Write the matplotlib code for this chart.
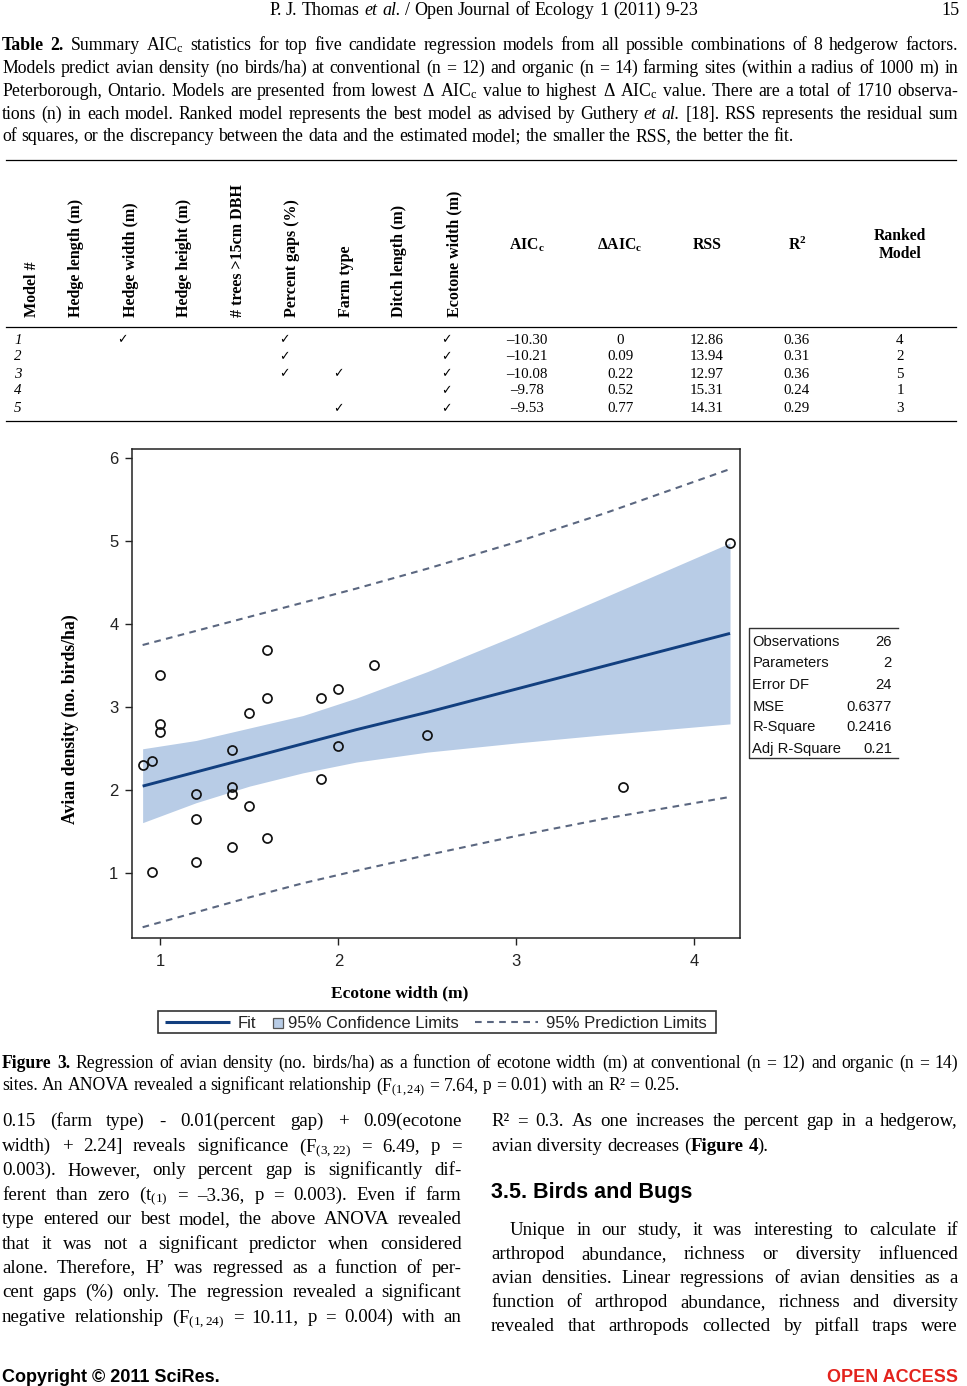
import matplotlib
matplotlib.use('Agg')
import matplotlib.pyplot as plt
from matplotlib.patches import Rectangle

plt.rcParams['mathtext.fontset'] = 'custom'
plt.rcParams['mathtext.rm'] = 'Liberation Serif'
plt.rcParams['mathtext.it'] = 'Liberation Serif:italic'
plt.rcParams['mathtext.bf'] = 'Liberation Serif:bold'

# ---------------- data ----------------
ecotone_width = [0.90, 0.95, 0.95, 1.00, 1.00, 1.00, 1.20, 1.20, 1.20, 1.40, 1.40, 1.40, 1.40,
                 1.50, 1.50, 1.60, 1.60, 1.60, 1.90, 1.90, 2.00, 2.00, 2.20, 2.50, 3.60, 4.20]
avian_density = [2.30, 2.35, 1.01, 3.39, 2.80, 2.70, 1.96, 1.66, 1.14, 2.49, 2.04, 1.96, 1.32,
                 2.93, 1.81, 3.69, 3.11, 1.43, 3.11, 2.13, 3.22, 2.53, 3.51, 2.67, 2.04, 4.98]

band_x = [0.9, 1.2, 1.5, 1.8, 2.1, 2.5, 3.0, 3.5, 4.2]
fit_y = [2.05, 2.22, 2.39, 2.56, 2.73, 2.94, 3.22, 3.50, 3.89]
ci_upper = [2.50, 2.60, 2.75, 2.90, 3.11, 3.43, 3.87, 4.33, 4.98]
ci_lower = [1.61, 1.85, 2.05, 2.21, 2.34, 2.46, 2.57, 2.67, 2.80]
pred_upper = [3.75, 3.92, 4.09, 4.26, 4.43, 4.67, 4.99, 5.34, 5.87]
pred_lower = [0.35, 0.53, 0.71, 0.88, 1.03, 1.22, 1.45, 1.66, 1.92]

x_ticks = [1, 2, 3, 4]
y_ticks = [1, 2, 3, 4, 5, 6]

stat_labels = ['Observations', 'Parameters', 'Error DF', 'MSE', 'R-Square', 'Adj R-Square']
stat_values = ['26', '2', '24', '0.6377', '0.2416', '0.21']

legend_labels = ['Fit', '95% Confidence Limits', '95% Prediction Limits']

table_cols = ['Model #', 'Hedge length (m)', 'Hedge width (m)', 'Hedge height (m)',
              '# trees >15cm DBH', 'Percent gaps (%)', 'Farm type', 'Ditch length (m)',
              'Ecotone width (m)']
model_ids = ['1', '2', '3', '4', '5']
model_factors = [['Hedge width (m)', 'Percent gaps (%)', 'Ecotone width (m)'],
                 ['Percent gaps (%)', 'Ecotone width (m)'],
                 ['Percent gaps (%)', 'Farm type', 'Ecotone width (m)'],
                 ['Ecotone width (m)'],
                 ['Farm type', 'Ecotone width (m)']]
stat_cols = [r'$\mathbf{AIC}_\mathbf{c}$', r'$\mathbf{\Delta AIC}_\mathbf{c}$', 'RSS',
             r'$\mathbf{R}^\mathbf{2}$', 'Ranked\nModel']
aicc = ['–10.30', '–10.21', '–10.08', '–9.78', '–9.53']
delta_aicc = ['0', '0.09', '0.22', '0.52', '0.77']
rss = ['12.86', '13.94', '12.97', '15.31', '14.31']
r_squared = ['0.36', '0.31', '0.36', '0.24', '0.29']
ranked = ['4', '2', '5', '1', '3']

header_text = 'P. J. Thomas ¤et al.¤ / Open Journal of Ecology 1 (2011) 9-23'
table_caption = [
    '§Table 2.§ Summary $\\mathrm{AIC}_\\mathrm{c}$ statistics for top five candidate regression models from all possible combinations of 8 hedgerow factors.',
    'Models predict avian density (no birds/ha) at conventional (n = 12) and organic (n = 14) farming sites (within a radius of 1000 m) in',
    'Peterborough, Ontario. Models are presented from lowest Δ $\\mathrm{AIC}_\\mathrm{c}$ value to highest Δ $\\mathrm{AIC}_\\mathrm{c}$ value. There are a total of 1710 observa-',
    'tions (n) in each model. Ranked model represents the best model as advised by Guthery ¤et al.¤ [18]. RSS represents the residual sum',
    'of squares, or the discrepancy between the data and the estimated model; the smaller the RSS, the better the fit.',
]
figure_caption = [
    '§Figure 3.§ Regression of avian density (no. birds/ha) as a function of ecotone width (m) at conventional (n = 12) and organic (n = 14)',
    'sites. An ANOVA revealed a significant relationship ($\\mathrm{F}_{(1,24)}$ = 7.64, p = 0.01) with an R² = 0.25.',
]
left_column = [
    '0.15 (farm type) - 0.01(percent gap) + 0.09(ecotone',
    'width) + 2.24] reveals significance ($\\mathrm{F}_{(3,22)}$ = 6.49, p =',
    '0.003). However, only percent gap is significantly dif-',
    'ferent than zero ($\\mathrm{t}_{(1)}$ = –3.36, p = 0.003). Even if farm',
    'type entered our best model, the above ANOVA revealed',
    'that it was not a significant predictor when considered',
    'alone. Therefore, H’ was regressed as a function of per-',
    'cent gaps (%) only. The regression revealed a significant',
    'negative relationship ($\\mathrm{F}_{(1,24)}$ = 10.11, p = 0.004) with an',
]
right_column_a = [
    'R² = 0.3. As one increases the percent gap in a hedgerow,',
    'avian diversity decreases (§Figure 4§).',
]
section_heading = '3.5. Birds and Bugs'
right_column_b = [
    'Unique in our study, it was interesting to calculate if',
    'arthropod abundance, richness or diversity influenced',
    'avian densities. Linear regressions of avian densities as a',
    'function of arthropod abundance, richness and diversity',
    'revealed that arthropods collected by pitfall traps were',
]

# ---------------- page ----------------
W, H = 967, 1386
fig = plt.figure(figsize=(W / 100, H / 100), dpi=100)
fig.patch.set_facecolor('white')
page = fig.add_axes([0, 0, 1, 1])
page.set_xlim(0, W)
page.set_ylim(H, 0)
page.axis('off')
renderer = fig.canvas.get_renderer()

SERIF = 'Liberation Serif'
SANS = 'Liberation Sans'


def parse_words(line):
    bold, ital = False, False
    words = []
    for w in line.split(' '):
        segs, buf = [], ''
        for ch in w:
            if ch == '§':
                if buf:
                    segs.append((buf, bold, ital)); buf = ''
                bold = not bold
            elif ch == '¤':
                if buf:
                    segs.append((buf, bold, ital)); buf = ''
                ital = not ital
            else:
                buf += ch
        if buf:
            segs.append((buf, bold, ital))
        if segs:
            words.append(segs)
    return words


def text_width(s, size, family=SERIF, weight='normal', style='normal'):
    t = page.text(0, 0, s, fontsize=size, family=family, fontweight=weight, fontstyle=style)
    w = t.get_window_extent(renderer=renderer).width
    t.remove()
    return w


def measure_words(words, size, family):
    out = []
    for segs in words:
        out.append([text_width(s, size, family, 'bold' if b else 'normal',
                               'italic' if it else 'normal') for s, b, it in segs])
    return out


def draw_line(line, x0, x1, yc, size, justify=True, family=SERIF, color='black', align='left'):
    words = parse_words(line)
    n = len(words)
    for _ in range(4):
        seg_w = measure_words(words, size, family)
        total = sum(sum(w) for w in seg_w)
        space = text_width('x x', size, family) - text_width('xx', size, family)
        need = total + (n - 1) * 0.7 * space
        if need > (x1 - x0) + 0.5:
            size *= (x1 - x0) / need
        else:
            break
    if justify and n > 1:
        gap = (x1 - x0 - total) / (n - 1)
    else:
        gap = space
    em = size * 100 / 72
    yb = yc + 0.30 * em
    if align == 'center':
        x = (x0 + x1) / 2 - (total + gap * (n - 1)) / 2
    else:
        x = x0
    for segs, ws in zip(words, seg_w):
        for (s, b, it), w in zip(segs, ws):
            page.text(x, yb, s, fontsize=size, family=family,
                      fontweight='bold' if b else 'normal',
                      fontstyle='italic' if it else 'normal',
                      va='baseline', ha='left', color=color)
            x += w
        x += gap


# header
draw_line(header_text, 0, W, 10, 13, justify=False, align='center')
page.text(960, 10 + 0.3 * 13 * 100 / 72, '15', fontsize=13, family=SERIF, ha='right', va='baseline')

# table caption
cap_y = [45, 68, 91, 114, 136]
for i, (ln, y) in enumerate(zip(table_caption, cap_y)):
    draw_line(ln, 2, 958, y, 12.8, justify=(i < len(table_caption) - 1))

# table
rule_kw = dict(color='black', lw=0.9)
page.plot([6, 956], [160, 160], **rule_kw)
page.plot([6, 956], [327, 327], **rule_kw)
page.plot([6, 956], [421, 421], **rule_kw)
col_x = [31.7, 76, 130.7, 184.3, 238.3, 292.3, 346, 399, 454]
for cx, name in zip(col_x, table_cols):
    page.text(cx, 317, name, rotation=90, ha='center', va='bottom', fontsize=11.5,
              family=SERIF, fontweight='bold')
stat_x = [527, 620, 707, 797, 900]
for sx, name in zip(stat_x, stat_cols):
    page.text(sx, 245, name, ha='center', va='center', fontsize=11.3, family=SERIF,
              fontweight='bold', linespacing=1.25)
row_y = [340, 357, 374, 391, 409]
for r, ry in enumerate(row_y):
    page.text(14, ry, model_ids[r], ha='left', va='center', fontsize=10.8, family=SERIF,
              fontstyle='italic')
    for f in model_factors[r]:
        cx = col_x[table_cols.index(f)] - 8
        page.text(cx, ry, '✓', ha='center', va='center', fontsize=9,
                  family=['DejaVu Sans'])
    for sx, vals in zip(stat_x, [aicc, delta_aicc, rss, r_squared, ranked]):
        page.text(sx, ry, vals[r], ha='center', va='center', fontsize=10.8, family=SERIF)

# ---------------- chart ----------------
ax_l, ax_r, ax_t, ax_b = 132.3, 740.0, 449.3, 937.7
ax = fig.add_axes([ax_l / W, 1 - ax_b / H, (ax_r - ax_l) / W, (ax_b - ax_t) / H])
band_color = '#b8cce6'
fit_color = '#123f7f'
pred_color = '#5b6780'
ax.fill_between(band_x, ci_lower, ci_upper, color=band_color, lw=0, zorder=1)
ax.plot(band_x, fit_y, color=fit_color, lw=2.1, zorder=3, solid_capstyle='butt')
ax.plot(band_x, pred_upper, color=pred_color, lw=1.5, ls=(0, (3.2, 2.6)), zorder=2)
ax.plot(band_x, pred_lower, color=pred_color, lw=1.5, ls=(0, (3.2, 2.6)), zorder=2)
ax.plot(ecotone_width, avian_density, 'o', mfc='none', mec='#111111', ms=6.5, mew=1.25, zorder=4)
ax.set_xlim(0.842, 4.256)
ax.set_ylim(0.224, 6.108)
ax.set_xticks(x_ticks)
ax.set_yticks(y_ticks)
ax.tick_params(axis='both', direction='out', length=5, width=1.0, labelsize=12,
               colors='#222222')
ax.tick_params(axis='x', pad=7)
ax.tick_params(axis='y', pad=5)
for lab in ax.get_xticklabels() + ax.get_yticklabels():
    lab.set_family(SANS)
for sp in ax.spines.values():
    sp.set_linewidth(1.1)
    sp.set_color('#222222')

# axis labels
page.text(70, 719, 'Avian density (no. birds/ha)', rotation=90, ha='center', va='center',
          fontsize=12.8, family=SERIF, fontweight='bold')
page.text(400, 993, 'Ecotone width (m)', ha='center', va='center', fontsize=12.5,
          family=SERIF, fontweight='bold')

# statistics inset
page.plot([898, 748.7, 748.7, 898], [628.3, 628.3, 758.3, 758.3], color='#333333', lw=1.0)
stat_rows = [641.7, 662.7, 685, 706.7, 727.3, 749.3]
for yv, lab, val in zip(stat_rows, stat_labels, stat_values):
    page.text(752.5, yv, lab, ha='left', va='center', fontsize=10.6, family=SANS, color='#111111')
    page.text(892, yv, val, ha='right', va='center', fontsize=10.6, family=SANS, color='#111111')

# legend
page.add_patch(Rectangle((157.7, 1010.7), 716 - 157.7, 22.6, fill=False, ec='#333333', lw=1.2))
leg_y = 1022.3
leg_b = leg_y + 0.358 * 12 * 100 / 72
page.plot([165, 230], [leg_y, leg_y], color=fit_color, lw=2.2, solid_capstyle='butt')
page.text(238, leg_b, legend_labels[0], fontsize=12, family=SANS, va='baseline', color='#222222')
page.add_patch(Rectangle((272.5, 1017.5), 10, 10, fc=band_color, ec='#555555', lw=0.9))
page.text(288, leg_b, legend_labels[1], fontsize=12, family=SANS, va='baseline', color='#222222')
page.plot([475, 538], [leg_y, leg_y], color=pred_color, lw=1.5, ls=(0, (3.2, 2.6)))
page.text(546, leg_b, legend_labels[2], fontsize=12, family=SANS, va='baseline', color='#222222')

# figure caption
fc_y = [1063, 1085]
for i, (ln, y) in enumerate(zip(figure_caption, fc_y)):
    draw_line(ln, 2, 958, y, 12.7, justify=(i < len(figure_caption) - 1))

# body text, left column
BODY = 13.6
lc_y = [1120.7, 1145.7, 1169.3, 1194, 1218.3, 1243.3, 1267.3, 1291.7, 1316.7]
for ln, y in zip(left_column, lc_y):
    draw_line(ln, 2, 461.5, y, BODY, justify=True)

# right column
draw_line(right_column_a[0], 491, 958, 1120.7, BODY, justify=True)
draw_line(right_column_a[1], 491, 958, 1145.7, BODY, justify=False)
page.text(491, 1190 + 0.36 * 15.5 * 100 / 72, section_heading, fontsize=15.5, family=SANS,
          fontweight='bold', va='baseline')
rc_y = [1229, 1253, 1277.7, 1301.7, 1325]
for i, (ln, y) in enumerate(zip(right_column_b, rc_y)):
    draw_line(ln, 510 if i == 0 else 491, 958, y, BODY, justify=True)

# footer
page.text(2, 1376 + 0.36 * 13 * 100 / 72, 'Copyright © 2011 SciRes.', fontsize=13, family=SANS,
          fontweight='bold', va='baseline')
page.text(958, 1376 + 0.36 * 13 * 100 / 72, 'OPEN ACCESS', fontsize=13, family=SANS,
          fontweight='bold', va='baseline', ha='right', color='#e3231d')

fig.savefig('out.png', dpi=100, facecolor='white')
